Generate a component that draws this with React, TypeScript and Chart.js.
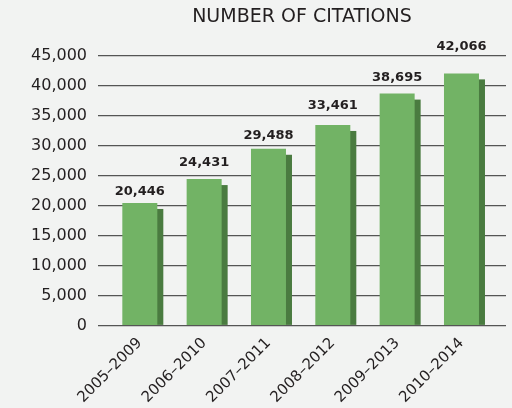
import React, { useEffect, useRef } from "react";
import { Chart, registerables } from "chart.js";

Chart.register(...registerables);

const periods = ["2005–2009", "2006–2010", "2007–2011", "2008–2012", "2009–2013", "2010–2014"];
const citations = [20446, 24431, 29488, 33461, 38695, 42066];
const yTicks = [0, 5000, 10000, 15000, 20000, 25000, 30000, 35000, 40000, 45000];
const chartTitle = "NUMBER OF CITATIONS";

// style: how far each value label's baseline sits above its bar (px)
const labelLift = [7.7, 13.3, 10, 16, 12.3, 23.6];

const BG = "#f2f3f2";
const LIGHT = "#72b365";
const DARK = "#4a7b40";
const GRID = "#555555";
const TEXT = "#231f20";
const FONT = "'DejaVu Sans', sans-serif";

const fmt = (v: number) => v.toLocaleString("en-US");

const bgPlugin = {
  id: "bg",
  beforeDraw(chart: any) {
    const { ctx, width, height } = chart;
    ctx.save();
    ctx.fillStyle = BG;
    ctx.fillRect(0, 0, width, height);
    ctx.restore();
  },
};

const shadowPlugin = {
  id: "shadow",
  beforeDatasetsDraw(chart: any) {
    const { ctx } = chart;
    const meta = chart.getDatasetMeta(0);
    ctx.save();
    ctx.fillStyle = DARK;
    meta.data.forEach((bar: any) => {
      const { x, y, base, width } = bar.getProps(["x", "y", "base", "width"], true);
      const left = x - width / 2 + 6;
      ctx.fillRect(left, y + 6, width, base - y - 6);
    });
    ctx.restore();
  },
};

const valueLabelPlugin = {
  id: "valueLabels",
  afterDatasetsDraw(chart: any) {
    const { ctx } = chart;
    const meta = chart.getDatasetMeta(0);
    ctx.save();
    ctx.fillStyle = TEXT;
    ctx.font = `bold 13px ${FONT}`;
    ctx.textAlign = "center";
    ctx.textBaseline = "alphabetic";
    meta.data.forEach((bar: any, i: number) => {
      const { x, y } = bar.getProps(["x", "y"], true);
      ctx.fillText(fmt(citations[i]), x, y - labelLift[i]);
    });
    ctx.restore();
  },
};

export default function App() {
  const ref = useRef<HTMLCanvasElement | null>(null);

  useEffect(() => {
    if (!ref.current) return;
    const chart = new Chart(ref.current, {
      type: "bar",
      data: {
        datasets: [
          {
            data: citations.map((v, i) => ({ x: i, y: v })),
            backgroundColor: LIGHT,
            barThickness: 35,
            borderWidth: 0,
            inflateAmount: 0,
          },
        ],
      },
      options: {
        animation: false,
        responsive: false,
        devicePixelRatio: 1,
        layout: { padding: { left: 0, right: 6, top: 0, bottom: 0 } },
        plugins: {
          legend: { display: false },
          tooltip: { enabled: false },
          title: {
            display: true,
            fullSize: false,
            text: chartTitle,
            color: TEXT,
            font: { family: FONT, size: 19, weight: "normal" },
            padding: { top: 6, bottom: 27 },
          },
        },
        scales: {
          x: {
            type: "linear",
            offset: false,
            min: -0.65,
            max: 5.692,
            afterBuildTicks: (scale: any) => {
              scale.ticks = periods.map((_, i) => ({ value: i }));
            },
            afterFit: (scale: any) => {
              scale.height = 82.5;
            },
            grid: { display: false },
            border: { display: false },
            ticks: {
              autoSkip: false,
              maxRotation: 45,
              minRotation: 45,
              color: TEXT,
              font: { family: FONT, size: 15 },
              padding: 1,
              callback: (v: any) => periods[v as number] ?? "",
            },
          },
          y: {
            min: 0,
            max: 45000,
            afterBuildTicks: (scale: any) => {
              scale.ticks = yTicks.map((v) => ({ value: v }));
            },
            afterFit: (scale: any) => {
              scale.width = 98;
            },
            grid: { color: GRID, lineWidth: 1.2, drawTicks: false },
            border: { display: false },
            ticks: {
              color: TEXT,
              padding: 11,
              font: { family: FONT, size: 16 },
              callback: (v: any) => fmt(v as number),
            },
          },
        },
      },
      plugins: [bgPlugin, shadowPlugin, valueLabelPlugin],
    } as any);
    return () => chart.destroy();
  }, []);

  return (
    <div style={{ position: "fixed", left: 0, top: 0, width: 512, height: 408, background: BG }}>
      <canvas ref={ref} width={512} height={408} style={{ display: "block" }} />
    </div>
  );
}
